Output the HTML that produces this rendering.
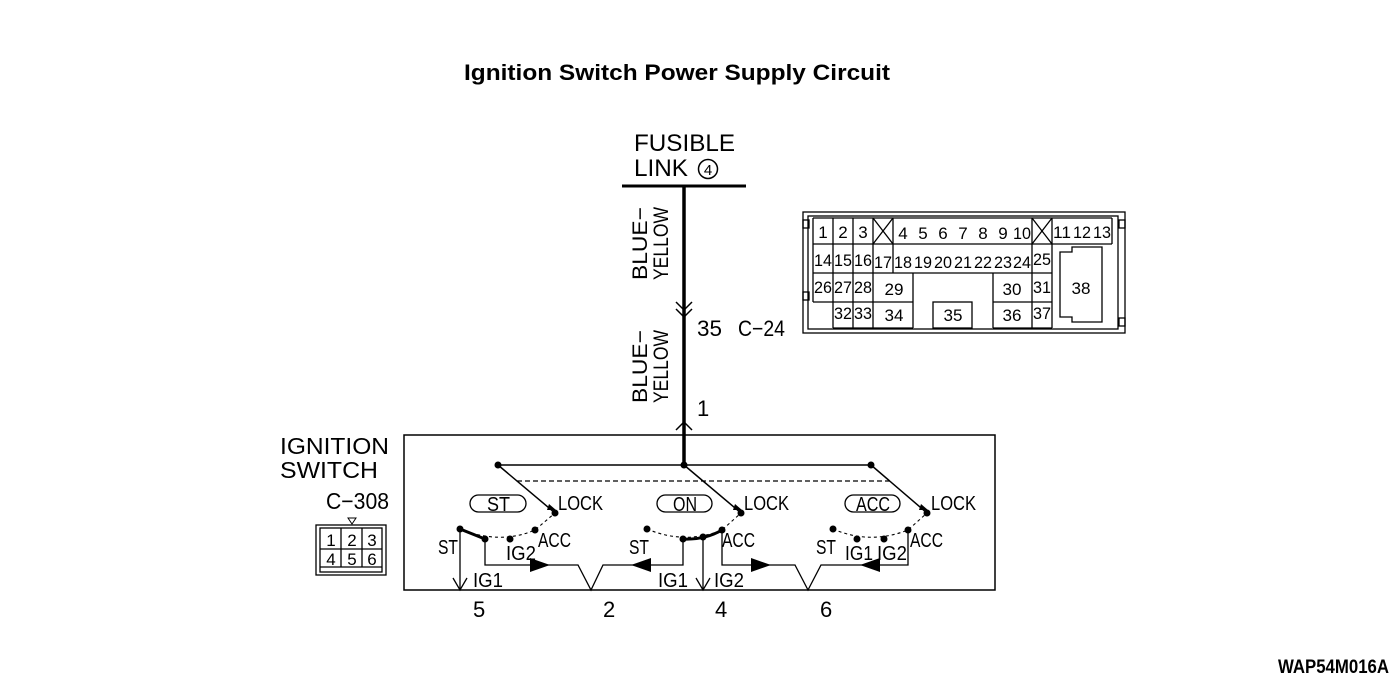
<!DOCTYPE html>
<html><head><meta charset="utf-8"><style>
html,body{margin:0;padding:0;background:#fff;}
svg{display:block;}
text{font-family:"Liberation Sans",sans-serif;fill:#000;}
</style></head><body>
<svg width="1400" height="684" viewBox="0 0 1400 684" xmlns="http://www.w3.org/2000/svg">
<text x="464" y="80" font-size="22" font-weight="bold" textLength="426" lengthAdjust="spacingAndGlyphs">Ignition Switch Power Supply Circuit</text>

<text x="634" y="151" font-size="24" textLength="101" lengthAdjust="spacingAndGlyphs">FUSIBLE</text>
<text x="634" y="176" font-size="24" textLength="54" lengthAdjust="spacingAndGlyphs">LINK</text>
<circle cx="708" cy="169" r="9.5" fill="none" stroke="#000" stroke-width="1.5"/>
<text x="708" y="175" font-size="15" text-anchor="middle">4</text>
<line x1="622" y1="186" x2="746" y2="186" stroke="#000" stroke-width="3"/>
<line x1="684" y1="186" x2="684" y2="465" stroke="#000" stroke-width="3.5"/>
<polyline points="676,302 684,310 692,302" fill="none" stroke="#000" stroke-width="1.5"/>
<polyline points="676,309 684,317 692,309" fill="none" stroke="#000" stroke-width="1.5"/>
<polyline points="676,430 684,422 692,430" fill="none" stroke="#000" stroke-width="1.5"/>
<text x="697" y="336" font-size="22" textLength="25" lengthAdjust="spacingAndGlyphs">35</text>
<text x="738" y="336" font-size="22" textLength="47" lengthAdjust="spacingAndGlyphs">C−24</text>
<text x="697" y="416" font-size="22">1</text>
<g font-size="21">
<text transform="translate(647,280) rotate(-90)" textLength="73" lengthAdjust="spacingAndGlyphs">BLUE−</text>
<text transform="translate(668,280) rotate(-90)" textLength="73" lengthAdjust="spacingAndGlyphs">YELLOW</text>
<text transform="translate(647,403) rotate(-90)" textLength="73" lengthAdjust="spacingAndGlyphs">BLUE−</text>
<text transform="translate(668,403) rotate(-90)" textLength="73" lengthAdjust="spacingAndGlyphs">YELLOW</text>
</g>

<g stroke="#000" stroke-width="1.3" fill="none">
<rect x="803" y="212" width="322" height="121"/>
<rect x="808" y="216" width="310" height="113"/>
<line x1="813" y1="218" x2="813" y2="302"/>
<line x1="813" y1="218" x2="1112" y2="218"/>
<line x1="1112" y1="218" x2="1112" y2="244"/>
<line x1="813" y1="244" x2="1112" y2="244"/>
<line x1="813" y1="273" x2="1052" y2="273"/>
<line x1="813" y1="302" x2="913" y2="302"/>
<line x1="993" y1="302" x2="1052" y2="302"/>
<line x1="833" y1="328" x2="913" y2="328"/>
<line x1="993" y1="328" x2="1052" y2="328"/>
<line x1="833" y1="218" x2="833" y2="328"/>
<line x1="853" y1="218" x2="853" y2="328"/>
<line x1="873" y1="218" x2="873" y2="328"/>
<line x1="893" y1="218" x2="893" y2="273"/>
<line x1="913" y1="273" x2="913" y2="328"/>
<line x1="993" y1="273" x2="993" y2="328"/>
<line x1="1032" y1="218" x2="1032" y2="328"/>
<line x1="1052" y1="218" x2="1052" y2="328"/>
<line x1="873" y1="218" x2="893" y2="244"/><line x1="893" y1="218" x2="873" y2="244"/>
<line x1="1032" y1="218" x2="1052" y2="244"/><line x1="1052" y1="218" x2="1032" y2="244"/>
<rect x="933" y="302" width="39" height="26"/>
<polygon points="1060,252 1072,252 1072,247 1102,247 1102,322 1072,322 1072,317 1060,317"/>
<rect x="803" y="220" width="6" height="8"/><rect x="803" y="292" width="6" height="8"/>
<rect x="1119" y="220" width="6" height="8"/><rect x="1119" y="318" width="6" height="8"/>
</g>
<g font-size="17" text-anchor="middle">
<text x="823" y="238">1</text><text x="843" y="238">2</text><text x="863" y="238">3</text>
<text x="903" y="239">4</text><text x="923" y="239">5</text><text x="943" y="239">6</text><text x="963" y="239">7</text><text x="983" y="239">8</text><text x="1003" y="239">9</text><text x="1022" y="239" textLength="18" lengthAdjust="spacingAndGlyphs">10</text>
<text x="1062" y="238" textLength="18" lengthAdjust="spacingAndGlyphs">11</text><text x="1082" y="238" textLength="18" lengthAdjust="spacingAndGlyphs">12</text><text x="1102" y="238" textLength="18" lengthAdjust="spacingAndGlyphs">13</text>
<text x="823" y="266" textLength="18" lengthAdjust="spacingAndGlyphs">14</text><text x="843" y="266" textLength="18" lengthAdjust="spacingAndGlyphs">15</text><text x="863" y="266" textLength="18" lengthAdjust="spacingAndGlyphs">16</text><text x="883" y="268" textLength="18" lengthAdjust="spacingAndGlyphs">17</text><text x="903" y="268" textLength="18" lengthAdjust="spacingAndGlyphs">18</text><text x="923" y="268" textLength="18" lengthAdjust="spacingAndGlyphs">19</text><text x="943" y="268" textLength="18" lengthAdjust="spacingAndGlyphs">20</text><text x="963" y="268" textLength="18" lengthAdjust="spacingAndGlyphs">21</text><text x="983" y="268" textLength="18" lengthAdjust="spacingAndGlyphs">22</text><text x="1003" y="268" textLength="18" lengthAdjust="spacingAndGlyphs">23</text><text x="1022" y="268" textLength="18" lengthAdjust="spacingAndGlyphs">24</text><text x="1042" y="265" textLength="18" lengthAdjust="spacingAndGlyphs">25</text>
<text x="823" y="293" textLength="18" lengthAdjust="spacingAndGlyphs">26</text><text x="843" y="293" textLength="18" lengthAdjust="spacingAndGlyphs">27</text><text x="863" y="293" textLength="18" lengthAdjust="spacingAndGlyphs">28</text><text x="894" y="295" textLength="19" lengthAdjust="spacingAndGlyphs">29</text><text x="1012" y="295" textLength="19" lengthAdjust="spacingAndGlyphs">30</text><text x="1042" y="293" textLength="18" lengthAdjust="spacingAndGlyphs">31</text><text x="1081" y="294" textLength="19" lengthAdjust="spacingAndGlyphs">38</text>
<text x="843" y="319" textLength="18" lengthAdjust="spacingAndGlyphs">32</text><text x="863" y="319" textLength="18" lengthAdjust="spacingAndGlyphs">33</text><text x="894" y="321" textLength="19" lengthAdjust="spacingAndGlyphs">34</text><text x="953" y="321" textLength="19" lengthAdjust="spacingAndGlyphs">35</text><text x="1012" y="321" textLength="19" lengthAdjust="spacingAndGlyphs">36</text><text x="1042" y="319" textLength="18" lengthAdjust="spacingAndGlyphs">37</text>
</g>

<text x="280" y="454" font-size="23" textLength="109" lengthAdjust="spacingAndGlyphs">IGNITION</text>
<text x="280" y="478" font-size="23" textLength="98" lengthAdjust="spacingAndGlyphs">SWITCH</text>
<text x="326" y="509" font-size="23" textLength="63" lengthAdjust="spacingAndGlyphs">C−308</text>
<polygon points="348,518 356,518 352,524" fill="none" stroke="#000" stroke-width="1"/>
<g stroke="#000" stroke-width="1.3" fill="none">
<rect x="316" y="525" width="70" height="50"/>
<rect x="320" y="528" width="62" height="44"/>
<line x1="320" y1="549" x2="382" y2="549"/>
<line x1="320" y1="567" x2="382" y2="567"/>
<line x1="341" y1="528" x2="341" y2="567"/>
<line x1="362" y1="528" x2="362" y2="567"/>
</g>
<g font-size="17" text-anchor="middle">
<text x="331" y="546">1</text><text x="352" y="546">2</text><text x="372" y="546">3</text>
<text x="331" y="565">4</text><text x="352" y="565">5</text><text x="372" y="565">6</text>
</g>

<rect x="404" y="435" width="591" height="155" fill="none" stroke="#000" stroke-width="1.5"/>
<g stroke="#000" fill="none">
<line x1="498" y1="465" x2="871" y2="465" stroke-width="1.5"/>
<line x1="517" y1="481" x2="890" y2="481" stroke-width="1.2" stroke-dasharray="5,3"/>
<line x1="498" y1="465" x2="555" y2="513" stroke-width="1.5"/>
<line x1="684" y1="465" x2="741" y2="513" stroke-width="1.5"/>
<line x1="871" y1="465" x2="927" y2="513" stroke-width="1.5"/>
<rect x="470" y="495" width="56" height="17" rx="8.5" stroke-width="1.3"/>
<rect x="657" y="495" width="55" height="17" rx="8.5" stroke-width="1.3"/>
<rect x="845" y="495" width="55" height="17" rx="8.5" stroke-width="1.3"/>
<path d="M460,529 Q500,545 535,530 L555,513" stroke-width="1.1" stroke-dasharray="3,3"/>
<path d="M647,529 Q685,545 722,530 L741,513" stroke-width="1.1" stroke-dasharray="3,3"/>
<path d="M833,529 Q870,545 908,530 L927,513" stroke-width="1.1" stroke-dasharray="3,3"/>
<path d="M460,529 L485,539" stroke-width="3"/>
<path d="M683,539 Q705,540 722,530" stroke-width="3"/>
<line x1="460" y1="529" x2="460" y2="590" stroke-width="1.3"/>
<polyline points="453,578 460,590 467,578" stroke-width="1.3"/>
<polyline points="485,539 485,565 578,565 591,590 603,565 683,565 683,539" stroke-width="1.3"/>
<line x1="703" y1="537" x2="703" y2="590" stroke-width="1.3"/>
<polyline points="696,578 703,590 710,578" stroke-width="1.3"/>
<polyline points="722,530 722,565 795,565 808,590 821,565 908,565 908,530" stroke-width="1.3"/>
</g>
<g fill="#000">
<polygon points="530,558 550,565 530,572"/>
<polygon points="651,558 631,565 651,572"/>
<polygon points="751,558 771,565 751,572"/>
<polygon points="880,558 860,565 880,572"/>
<circle cx="498" cy="465" r="3.5"/><circle cx="684" cy="465" r="3.5"/><circle cx="871" cy="465" r="3.5"/>
<circle cx="555" cy="513" r="3.5"/><circle cx="741" cy="513" r="3.5"/><circle cx="927" cy="513" r="3.5"/>
<circle cx="460" cy="529" r="3.5"/><circle cx="485" cy="539" r="3.5"/><circle cx="510" cy="539" r="3.5"/><circle cx="535" cy="530" r="3.5"/>
<circle cx="647" cy="529" r="3.5"/><circle cx="683" cy="539" r="3.5"/><circle cx="703" cy="537" r="3.5"/><circle cx="722" cy="530" r="3.5"/>
<circle cx="833" cy="529" r="3.5"/><circle cx="857" cy="539" r="3.5"/><circle cx="884" cy="539" r="3.5"/><circle cx="908" cy="530" r="3.5"/>
<polygon points="549,504 556,510 547,510"/>
<polygon points="735,504 742,510 733,510"/>
<polygon points="921,504 928,510 919,510"/>
</g>
<g font-size="20">
<text x="487" y="511" textLength="23" lengthAdjust="spacingAndGlyphs">ST</text><text x="673" y="511" textLength="24" lengthAdjust="spacingAndGlyphs">ON</text><text x="856" y="511" textLength="34" lengthAdjust="spacingAndGlyphs">ACC</text>
<text x="558" y="510" textLength="45" lengthAdjust="spacingAndGlyphs">LOCK</text><text x="744" y="510" textLength="45" lengthAdjust="spacingAndGlyphs">LOCK</text><text x="931" y="510" textLength="45" lengthAdjust="spacingAndGlyphs">LOCK</text>
<text x="438" y="554" textLength="20" lengthAdjust="spacingAndGlyphs">ST</text><text x="538" y="547" textLength="33" lengthAdjust="spacingAndGlyphs">ACC</text><text x="506" y="560" textLength="30" lengthAdjust="spacingAndGlyphs">IG2</text><text x="473" y="587" textLength="30" lengthAdjust="spacingAndGlyphs">IG1</text>
<text x="629" y="554" textLength="20" lengthAdjust="spacingAndGlyphs">ST</text><text x="722" y="547" textLength="33" lengthAdjust="spacingAndGlyphs">ACC</text><text x="658" y="587" textLength="30" lengthAdjust="spacingAndGlyphs">IG1</text><text x="714" y="587" textLength="30" lengthAdjust="spacingAndGlyphs">IG2</text>
<text x="816" y="554" textLength="20" lengthAdjust="spacingAndGlyphs">ST</text><text x="910" y="547" textLength="33" lengthAdjust="spacingAndGlyphs">ACC</text><text x="845" y="560" textLength="28" lengthAdjust="spacingAndGlyphs">IG1</text><text x="877" y="560" textLength="30" lengthAdjust="spacingAndGlyphs">IG2</text>
</g>
<g font-size="22">
<text x="473" y="617">5</text><text x="603" y="617">2</text><text x="715" y="617">4</text><text x="820" y="617">6</text>
</g>
<text x="1278" y="673" font-size="19" font-weight="bold" textLength="111" lengthAdjust="spacingAndGlyphs">WAP54M016A</text>
</svg>
</body></html>
